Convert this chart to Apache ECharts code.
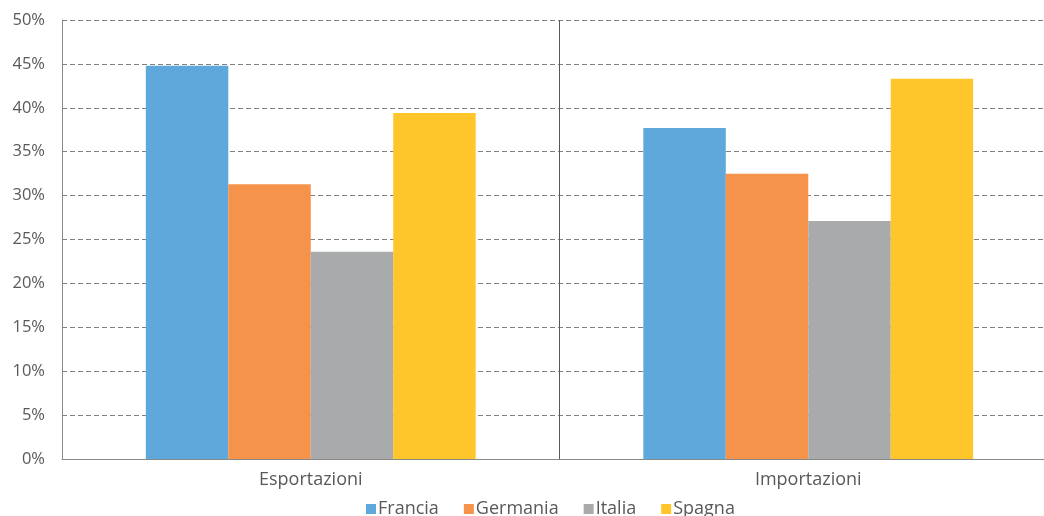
<!DOCTYPE html>
<html><head><meta charset="utf-8">
<script src="https://cdn.jsdelivr.net/npm/echarts@6/dist/echarts.min.js"></script>
<style>html,body{margin:0;padding:0;background:#fff;overflow:hidden}#c{width:1057px;height:516px}</style>
</head><body><div id="c"></div>
<script>
const categories = ['Esportazioni', 'Importazioni'];
const seriesNames = ['Francia', 'Germania', 'Italia', 'Spagna'];
const francia = [44.8, 37.7];
const germania = [31.3, 32.5];
const italia = [23.6, 27.1];
const spagna = [39.4, 43.3];
const colors = ['#5FA8DC', '#F6934A', '#A9AAAB', '#FEC62A'];
const values = [francia, germania, italia, spagna];

const chart = echarts.init(document.getElementById('c'), null, {renderer: 'canvas'});
const font = '"Open Sans", "Noto Sans", sans-serif';
chart.setOption({
  animation: false,
  color: colors,
  grid: {left: 62, right: 0, top: 20, bottom: 57, containLabel: false},
  legend: {
    top: 500, left: 366, padding: 0,
    icon: 'rect', itemWidth: 10, itemHeight: 10, itemGap: 25,
    textStyle: {fontFamily: font, fontSize: 18, color: '#595959', padding: [0, 0, 0, -3]},
    data: seriesNames
  },
  xAxis: {
    type: 'category', data: categories,
    axisLine: {show: true, lineStyle: {color: '#898989', width: 1}},
    axisTick: {show: false},
    axisLabel: {fontFamily: font, fontSize: 18, color: '#595959', margin: 12},
    splitLine: {show: true, lineStyle: {color: '#595959', width: 1}}
  },
  yAxis: {
    type: 'value', min: 0, max: 50, interval: 5,
    axisLine: {show: true, lineStyle: {color: '#898989', width: 1}},
    axisTick: {show: false},
    axisLabel: {fontFamily: font, fontSize: 16.5, color: '#595959', margin: 17, formatter: '{value}%'},
    splitLine: {show: true, lineStyle: {color: '#7f7f7f', type: [5, 3], width: 1}}
  },
  series: seriesNames.map((n, i) => ({
    name: n, type: 'bar', data: values[i],
    barGap: '0%', barCategoryGap: '33.7%'
  }))
});
</script></body></html>
